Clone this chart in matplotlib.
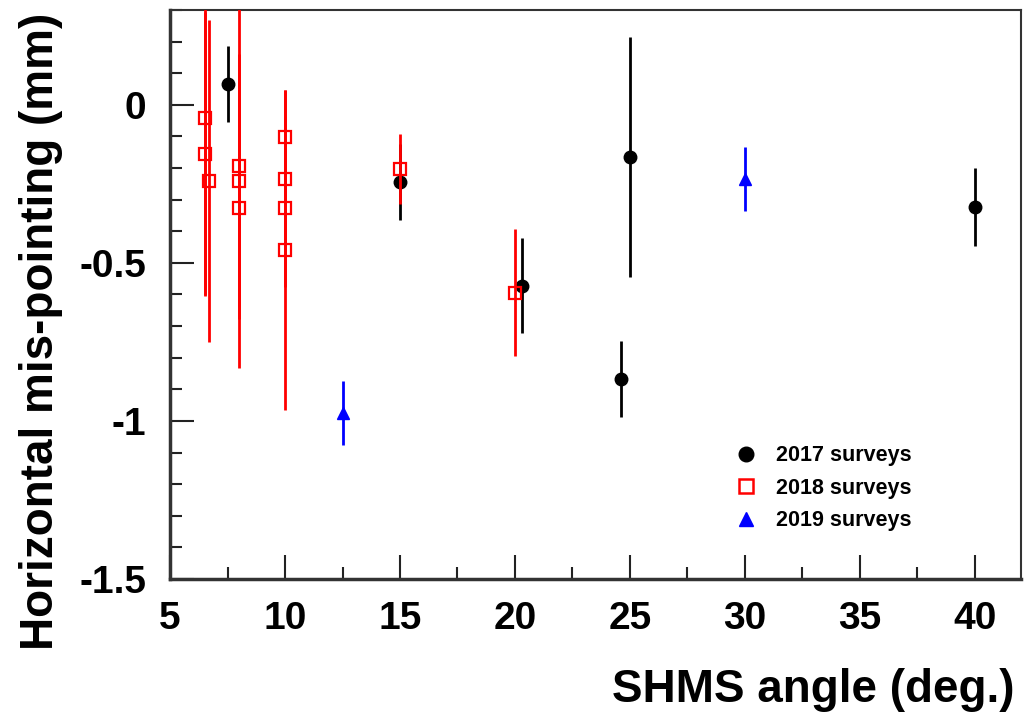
import matplotlib
matplotlib.use("Agg")
import matplotlib.pyplot as plt
from matplotlib.lines import Line2D
from matplotlib.ticker import MultipleLocator, FormatStrFormatter

plt.rcParams["font.family"] = ["Liberation Sans", "DejaVu Sans"]
plt.rcParams["font.weight"] = "bold"
plt.rcParams["axes.unicode_minus"] = False

# 2017 surveys
x17 = [7.5, 15.0, 20.3, 24.6, 25.0, 40.0]
y17 = [0.065, -0.245, -0.572, -0.868, -0.164, -0.324]
e17 = [0.12, 0.12, 0.15, 0.12, 0.38, 0.123]

# 2018 surveys
x18 = [6.5, 6.5, 6.7, 8.0, 8.0, 8.0, 10.0, 10.0, 10.0, 10.0, 15.0, 20.0]
y18 = [-0.041, -0.155, -0.241, -0.192, -0.240, -0.327,
       -0.103, -0.234, -0.326, -0.459, -0.203, -0.594]
e18 = [0.56, 0.45, 0.51, 0.64, 0.40, 0.35,
       0.15, 0.20, 0.25, 0.505, 0.11, 0.20]

# 2019 surveys
x19 = [12.5, 30.0]
y19 = [-0.975, -0.235]
e19 = [0.10, 0.10]

labels = ["2017 surveys", "2018 surveys", "2019 surveys"]

fig = plt.figure(figsize=(10.25, 7.18), dpi=100)
ax = fig.add_axes([0.1659, 0.1936, 0.8301, 0.7925])

ax.errorbar(x18, y18, yerr=e18, fmt="s", color="#ff0000", mfc="none",
            mec="#ff0000", mew=1.6, ms=9, elinewidth=2, capsize=0, zorder=3)
ax.errorbar(x17, y17, yerr=e17, fmt="o", color="black", ms=9,
            elinewidth=2, capsize=0, zorder=2)
ax.errorbar(x19, y19, yerr=e19, fmt="^", color="#0000ff", ms=8.5,
            elinewidth=2, capsize=0, zorder=3)

ax.set_xlim(5, 42)
ax.set_ylim(-1.5, 0.3)
ax.xaxis.set_major_locator(MultipleLocator(5))
ax.xaxis.set_minor_locator(MultipleLocator(2.5))
ax.yaxis.set_major_locator(MultipleLocator(0.5))
ax.yaxis.set_minor_locator(MultipleLocator(0.1))
ax.yaxis.set_major_formatter(FormatStrFormatter("%g"))

ax.tick_params(which="both", direction="in", top=False, right=False,
               width=1.5, color="#222222")
ax.tick_params(which="major", length=17, labelsize=28)
ax.tick_params(which="minor", length=8.5)
ax.tick_params(axis="x", which="major", pad=16)
ax.tick_params(axis="y", which="major", pad=17)
for s in ax.spines.values():
    s.set_color("#333333")
    s.set_linewidth(1.5)
ax.spines["left"].set_linewidth(2.5)
ax.spines["bottom"].set_linewidth(2.5)

ax.set_xlabel("SHMS angle (deg.)", fontsize=33, fontweight="bold")
ax.xaxis.set_label_coords(0.993, -0.195)
ax.xaxis.label.set_horizontalalignment("right")
ax.xaxis.label.set_verticalalignment("center")
fig.text(0.040, 0.982, "Horizontal mis-pointing (mm)", rotation=90,
         fontsize=33, fontweight="bold", ha="center", va="top")

# legend shows markers only, no error bars
handles = [
    Line2D([], [], ls="none", marker="o", color="black", ms=10.5),
    Line2D([], [], ls="none", marker="s", mfc="none", mec="#ff0000",
           mew=1.8, ms=10.5),
    Line2D([], [], ls="none", marker="^", color="#0000ff", ms=10.5),
]
fig.legend(handles, labels, loc="upper left",
           bbox_to_anchor=(0.717, 0.380), frameon=False, fontsize=15.5,
           handletextpad=0.9, labelspacing=0.54, handlelength=1.0,
           borderpad=0, borderaxespad=0)

fig.savefig("out.png", dpi=100)
